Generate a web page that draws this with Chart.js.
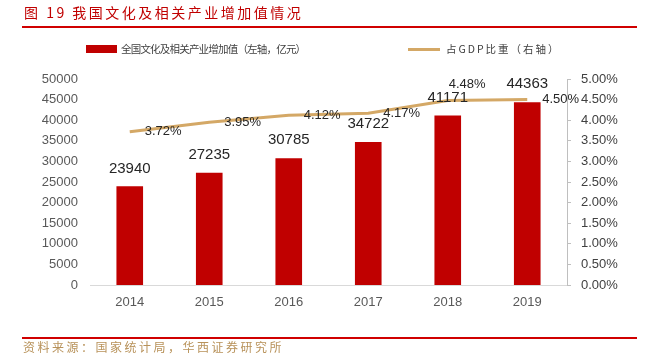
<!DOCTYPE html>
<html>
<head>
<meta charset="utf-8">
<script src="https://cdn.jsdelivr.net/npm/chart.js@4/dist/chart.umd.min.js"></script>
<style>
  html, body { margin: 0; padding: 0; background: #fff; }
  #wrap { position: relative; width: 645px; height: 357px; overflow: hidden; }
  canvas { position: absolute; left: 0; top: 0; }
  .title { position: absolute; left: 24px; top: 3px; font-family: "Noto Sans CJK SC", sans-serif; font-size: 14px; letter-spacing: 2.5px; color: #C00000; line-height: 18px; white-space: nowrap; }
  .rule { position: absolute; left: 22px; width: 615px; height: 2px; background: #D00000; }
  .source { position: absolute; left: 23px; top: 339px; font-family: "Noto Sans CJK SC", sans-serif; font-size: 12px; letter-spacing: 2.5px; color: #B8925A; line-height: 16px; white-space: nowrap; }
  .leg { position: absolute; font-family: "Noto Sans CJK SC", sans-serif; font-size: 10.5px; color: #404040; line-height: 14px; white-space: nowrap; top: 42px; }
  .swatch { position: absolute; }
</style>
</head>
<body>
<div id="wrap">
  <canvas id="c" width="645" height="357"></canvas>
  <div class="title">图 19 我国文化及相关产业增加值情况</div>
  <div class="rule" style="top:26px"></div>
  <div class="swatch" style="left:86px;top:45px;width:31px;height:8px;background:#C00000"></div>
  <div class="leg" style="left:121px;letter-spacing:-0.8px">全国文化及相关产业增加值（左轴，亿元）</div>
  <div class="swatch" style="left:408px;top:48px;width:32px;height:3px;background:#D4A866"></div>
  <div class="leg" style="left:446px;letter-spacing:2px">占GDP比重（右轴）</div>
  <div class="rule" style="top:337px"></div>
  <div class="source">资料来源：国家统计局，华西证券研究所</div>
</div>
<script>
const categories = ['2014', '2015', '2016', '2017', '2018', '2019'];
const addedValue = [23940, 27235, 30785, 34722, 41171, 44363];
const gdpShare = [3.72, 3.95, 4.12, 4.17, 4.48, 4.50];
const leftTicks = { min: 0, max: 50000, step: 5000 };
const rightTicks = { min: 0, max: 5, step: 0.5 };

const numFont = '"Liberation Sans", Arial, sans-serif';

const labelPlugin = {
  id: 'valueLabels',
  afterDatasetsDraw(chart) {
    const ctx = chart.ctx;
    ctx.save();
    const barMeta = chart.getDatasetMeta(0);
    ctx.font = '15px ' + numFont;
    ctx.fillStyle = '#262626';
    ctx.textAlign = 'center';
    ctx.textBaseline = 'middle';
    barMeta.data.forEach((el, i) => {
      ctx.fillText(String(addedValue[i]), el.x, el.y - 18);
    });
    const lineMeta = chart.getDatasetMeta(1);
    ctx.font = '13px ' + numFont;
    ctx.textAlign = 'left';
    lineMeta.data.forEach((el, i) => {
      const txt = gdpShare[i].toFixed(2) + '%';
      if (i === 4) ctx.fillText(txt, el.x + 1, el.y - 16);
      else ctx.fillText(txt, el.x + 15, el.y);
    });
    ctx.restore();
  }
};

new Chart(document.getElementById('c'), {
  data: {
    labels: categories,
    datasets: [
      {
        type: 'bar',
        label: '全国文化及相关产业增加值（左轴，亿元）',
        data: addedValue,
        backgroundColor: '#C00000',
        yAxisID: 'y',
        categoryPercentage: 1,
        barPercentage: 0.335,
        order: 2
      },
      {
        type: 'line',
        label: '占GDP比重（右轴）',
        data: gdpShare,
        borderColor: '#D4A866',
        borderWidth: 3,
        pointRadius: 0,
        tension: 0,
        yAxisID: 'y1',
        order: 1
      }
    ]
  },
  options: {
    responsive: false,
    animation: false,
    devicePixelRatio: 1,
    layout: { padding: { top: 79, left: 0, right: 0, bottom: 0 } },
    plugins: { legend: { display: false }, tooltip: { enabled: false } },
    scales: {
      x: {
        offset: true,
        grid: { display: false, drawTicks: false },
        border: { display: true, color: '#D9D9D9', width: 1 },
        ticks: { color: '#595959', font: { size: 13, family: numFont }, padding: 10 },
        afterFit(s) { s.height = 72; }
      },
      y: {
        position: 'left',
        min: leftTicks.min, max: leftTicks.max,
        grid: { display: false, drawTicks: false },
        border: { display: false },
        ticks: { stepSize: leftTicks.step, color: '#595959', font: { size: 13, family: numFont }, padding: 12,
                 callback: v => String(v) },
        afterFit(s) { s.width = 90; }
      },
      y1: {
        position: 'right',
        min: rightTicks.min, max: rightTicks.max,
        grid: { display: true, drawOnChartArea: false, drawTicks: true, tickLength: 4, color: '#BFBFBF' },
        border: { display: true, color: '#BFBFBF', width: 1 },
        ticks: { stepSize: rightTicks.step, color: '#404040', font: { size: 13, family: numFont }, padding: 10,
                 callback: v => Number(v).toFixed(2) + '%' },
        afterFit(s) { s.width = 78; }
      }
    }
  },
  plugins: [labelPlugin]
});
</script>
</body>
</html>
